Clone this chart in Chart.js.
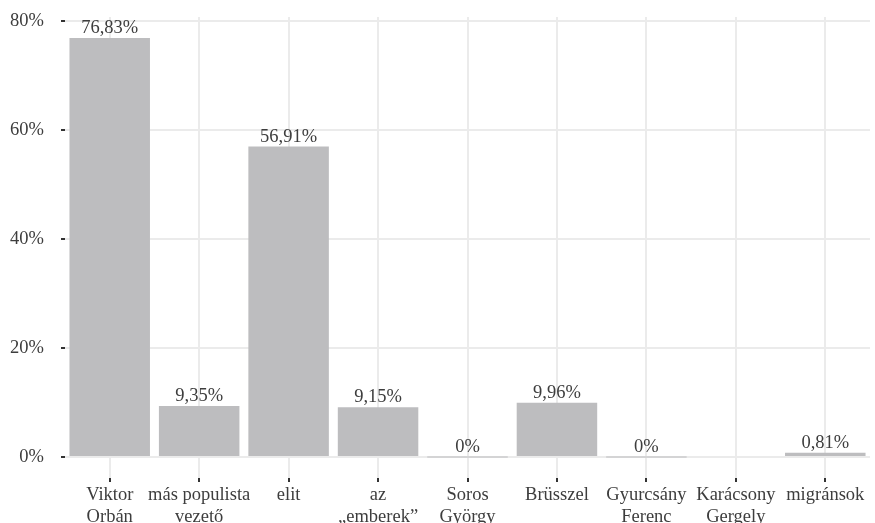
<!DOCTYPE html>
<html>
<head>
<meta charset="utf-8">
<script src="https://cdn.jsdelivr.net/npm/chart.js@4/dist/chart.umd.min.js"></script>
<style>
    html, body { margin: 0; padding: 0; background: #fff; overflow: hidden; }
    #wrap { width: 875px; height: 523px; }
</style>
</head>
<body>
<div id="wrap"><canvas id="bars"></canvas></div>
<script>
const categories = [
    ['Viktor', 'Orbán'],
    ['más populista', 'vezető'],
    'elit',
    ['az', '„emberek”'],
    ['Soros', 'György'],
    'Brüsszel',
    ['Gyurcsány', 'Ferenc'],
    ['Karácsony', 'Gergely'],
    'migránsok',
];
const shares = [76.83, 9.35, 56.91, 9.15, 0, 9.96, 0, null, 0.81];
const yTicks = [0, 20, 40, 60, 80];

const serif = '"Liberation Serif", "DejaVu Serif", serif';
const textGrey = '#3d3d3d';

// labels above the bars, hungarian decimal comma
const barLabels = {
    id: 'barLabels',
    afterDatasetsDraw(chart) {
        const ctx = chart.ctx;
        const meta = chart.getDatasetMeta(0);
        ctx.save();
        ctx.font = '18.5px ' + serif;
        ctx.fillStyle = textGrey;
        ctx.textAlign = 'center';
        ctx.textBaseline = 'alphabetic';
        meta.data.forEach((bar, i) => {
            const v = shares[i];
            if (v === null) return;
            const txt = (v === 0 ? '0' : v.toFixed(2).replace('.', ',')) + '%';
            const top = chart.scales.y.getPixelForValue(v);
            ctx.fillText(txt, bar.x, top - 5);
        });
        ctx.restore();
    }
};

let canvas = document.getElementById('bars');
let chart = new Chart(canvas, {
    type: 'bar',
    data: {
        labels: categories,
        datasets: [
            {
                data: shares,
                backgroundColor: '#bdbdbf',
                borderWidth: 0,
                minBarLength: 1,
                barPercentage: 0.9,
                categoryPercentage: 1,
            }
        ],
    },
    options: {
        responsive: true,
        maintainAspectRatio: false,
        animation: false,
        layout: { padding: { top: 17, right: 5, left: 0, bottom: 0 } },
        plugins: {
            legend: { display: false },
            tooltip: { enabled: false },
        },
        scales: {
            x: {
                offset: true,
                border: { display: false },
                grid: {
                    offset: false,
                    color: '#ebebeb',
                    lineWidth: 2,
                    tickColor: '#333333',
                    tickLength: 4,
                },
                ticks: {
                    color: textGrey,
                    font: { family: serif, size: 18.5, lineHeight: 1.2 },
                    padding: 2,
                    maxRotation: 0,
                    autoSkip: false,
                },
                afterFit(scale) {
                    scale.height = 45;
                    scale.paddingLeft = 0;
                    scale.paddingRight = 0;
                },
            },
            y: {
                min: -3.84,
                max: 80.67,
                border: { display: false },
                grid: {
                    color: '#ebebeb',
                    lineWidth: 2,
                    tickColor: '#333333',
                    tickLength: 4,
                },
                ticks: {
                    color: textGrey,
                    font: { family: serif, size: 18.5 },
                    padding: 17,
                    callback: (v) => v + '%',
                },
                afterBuildTicks(scale) {
                    scale.ticks = yTicks.map((v) => ({ value: v }));
                },
                afterFit(scale) {
                    scale.width = 65;
                    scale.paddingTop = 0;
                    scale.paddingBottom = 0;
                },
            },
        },
    },
    plugins: [barLabels],
});
</script>
</body>
</html>
